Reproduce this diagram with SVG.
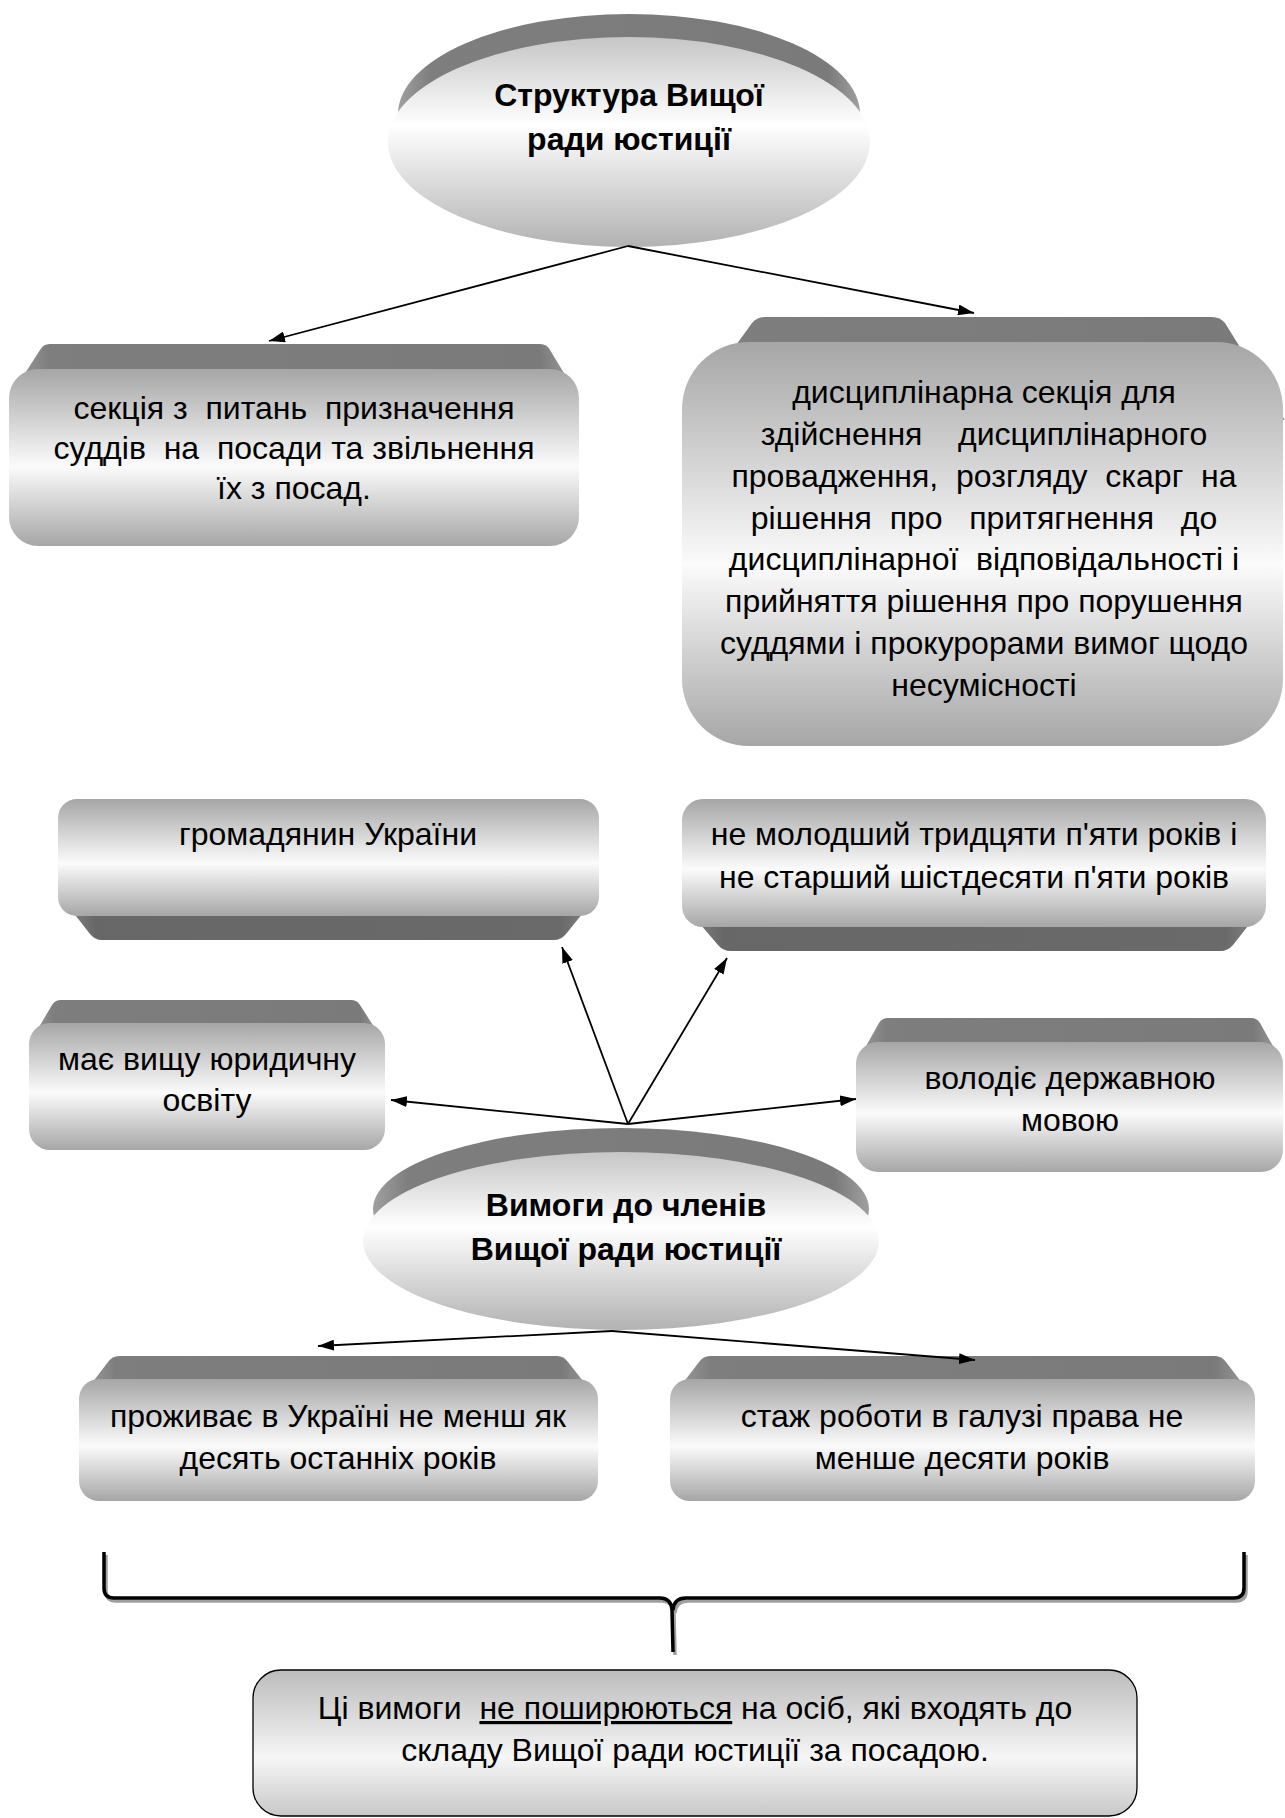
<svg xmlns="http://www.w3.org/2000/svg" width="1285" height="1818" viewBox="0 0 1285 1818">
<style>
text{font-family:"Liberation Sans",Arial,sans-serif;font-size:32px;fill:#000;text-anchor:middle;white-space:pre}
.b{font-weight:bold}
.face{fill:url(#faceG)}
.band{fill:url(#bandG)}
.bandB{fill:url(#bandB)}
.conn{stroke:#000;stroke-width:1.8;fill:none;marker-end:url(#ah)}
</style>
<defs>
<linearGradient id="faceG" x1="0" y1="0" x2="0" y2="1">
<stop offset="0" stop-color="#a6a6a6"/>
<stop offset="0.55" stop-color="#fbfbfb"/>
<stop offset="1" stop-color="#a6a6a6"/>
</linearGradient>
<linearGradient id="ellG" x1="0" y1="0" x2="0" y2="1">
<stop offset="0" stop-color="#c6c6c6"/>
<stop offset="0.42" stop-color="#ffffff"/>
<stop offset="1" stop-color="#b2b2b2"/>
</linearGradient>
<linearGradient id="bandG" x1="0" y1="0" x2="1" y2="0">
<stop offset="0" stop-color="#a0a0a0"/>
<stop offset="0.07" stop-color="#7e7e7e"/>
<stop offset="0.93" stop-color="#7a7a7a"/>
<stop offset="1" stop-color="#a0a0a0"/>
</linearGradient>
<linearGradient id="bandB" x1="0" y1="0" x2="1" y2="0">
<stop offset="0" stop-color="#8a8a8a"/>
<stop offset="0.07" stop-color="#676767"/>
<stop offset="0.93" stop-color="#6a6a6a"/>
<stop offset="1" stop-color="#8a8a8a"/>
</linearGradient>
<linearGradient id="botG" x1="0" y1="0" x2="0" y2="1">
<stop offset="0" stop-color="#bcbcbc"/>
<stop offset="0.6" stop-color="#f6f6f6"/>
<stop offset="1" stop-color="#c8c8c8"/>
</linearGradient>
<marker id="ah" viewBox="0 0 10 10" refX="10" refY="5" markerWidth="16" markerHeight="11" markerUnits="userSpaceOnUse" orient="auto" preserveAspectRatio="none">
<path d="M0,0 L10,5 L0,10 Z" fill="#000"/>
</marker>
</defs>

<g id="node-structure">
<ellipse cx="629" cy="114" rx="231" ry="100" class="band"/>
<ellipse cx="629" cy="142" rx="241" ry="105" fill="url(#ellG)"/>
<text class="b" x="629" y="106">Структура Вищої</text>
<text class="b" x="629" y="150">ради юстиції</text>
</g>

<g id="node-appoint">
<path class="band" d="M9,398 L40,350 Q43,344 50,344 L540,344 Q547,344 550,350 L579,398 Z"/>
<rect class="face" x="9" y="369" width="570" height="177" rx="29"/>
<text x="294" y="419">секція з  питань  призначення</text>
<text x="294" y="459">суддів  на  посади та звільнення</text>
<text x="294" y="499">їх з посад.</text>
</g>

<g id="node-discipline">
<path class="band" d="M682,420 L752,323 Q757,317 765,317 L1212,317 Q1220,317 1225,323 L1285,420 Z"/>
<rect class="face" x="682" y="342" width="601" height="404" rx="67"/>
<text x="984" y="403">дисциплінарна секція для</text>
<text x="984" y="445">здійснення    дисциплінарного</text>
<text x="984" y="487">провадження,  розгляду  скарг  на</text>
<text x="984" y="529">рішення  про   притягнення   до</text>
<text x="984" y="570">дисциплінарної  відповідальності і</text>
<text x="984" y="612">прийняття рішення про порушення</text>
<text x="984" y="654">суддями і прокурорами вимог щодо</text>
<text x="984" y="696">несумісності</text>
</g>

<g id="node-citizen">
<path class="bandB" d="M58,893 L90,934 Q95,940 102,940 L554,940 Q561,940 566,934 L599,893 Z"/>
<rect class="face" x="58" y="799" width="541" height="117" rx="19"/>
<text x="328" y="845">громадянин України</text>
</g>

<g id="node-age">
<path class="bandB" d="M682,903 L718,945 Q723,951 731,951 L1220,951 Q1228,951 1233,945 L1266,903 Z"/>
<rect class="face" x="682" y="799" width="584" height="128" rx="21"/>
<text x="974" y="845">не молодший тридцяти п'яти років і</text>
<text x="974" y="888">не старший шістдесяти п'яти років</text>
</g>

<g id="node-education">
<path class="band" d="M29,1044 L52,1005 Q55,1000 61,1000 L351,1000 Q357,1000 360,1005 L385,1044 Z"/>
<rect class="face" x="29" y="1023" width="356" height="127" rx="21"/>
<text x="207" y="1070">має вищу юридичну</text>
<text x="207" y="1111">освіту</text>
</g>

<g id="node-language">
<path class="band" d="M856,1064 L879,1023 Q882,1018 888,1018 L1251,1018 Q1257,1018 1260,1023 L1283,1064 Z"/>
<rect class="face" x="856" y="1042" width="427" height="130" rx="22"/>
<text x="1070" y="1089">володіє державною</text>
<text x="1070" y="1131">мовою</text>
</g>

<g id="node-requirements">
<ellipse cx="621" cy="1209" rx="248" ry="81" class="band"/>
<ellipse cx="621" cy="1241" rx="258" ry="89" fill="url(#ellG)"/>
<text class="b" x="626" y="1216">Вимоги до членів</text>
<text class="b" x="626" y="1260">Вищої ради юстиції</text>
</g>

<g id="node-residence">
<path class="band" d="M79,1400 L108,1362 Q112,1356 119,1356 L557,1356 Q564,1356 568,1362 L598,1400 Z"/>
<rect class="face" x="79" y="1379" width="519" height="122" rx="20"/>
<text x="338" y="1427">проживає в Україні не менш як</text>
<text x="338" y="1469">десять останніх років</text>
</g>

<g id="node-experience">
<path class="band" d="M670,1400 L699,1362 Q703,1356 710,1356 L1215,1356 Q1222,1356 1226,1362 L1255,1400 Z"/>
<rect class="face" x="670" y="1379" width="585" height="122" rx="20"/>
<text x="962" y="1427">стаж роботи в галузі права не</text>
<text x="962" y="1469">менше десяти років</text>
</g>

<g id="brace">
<path d="M104,1552 L104,1588 Q104,1598 114,1598 L660,1598 Q671,1598 672,1610 L673,1652 M1244,1552 L1244,1588 Q1244,1598 1234,1598 L686,1598 Q674,1598 673,1610" fill="none" stroke="#a0a0a0" stroke-width="3.5" transform="translate(2,3)"/>
<path d="M104,1552 L104,1588 Q104,1598 114,1598 L660,1598 Q671,1598 672,1610 L673,1652 M1244,1552 L1244,1588 Q1244,1598 1234,1598 L686,1598 Q674,1598 673,1610" fill="none" stroke="#000" stroke-width="3.5"/>
</g>

<g id="node-note">
<rect x="253" y="1670" width="884" height="146" rx="28" fill="url(#botG)" stroke="#000" stroke-width="1.3"/>
<text x="695" y="1719">Ці вимоги  <tspan text-decoration="underline">не поширюються</tspan> на осіб, які входять до</text>
<text x="695" y="1761">складу Вищої ради юстиції за посадою.</text>
</g>

<g id="connectors">
<line class="conn" x1="628" y1="246" x2="269" y2="341"/>
<line class="conn" x1="628" y1="246" x2="974" y2="313"/>
<line class="conn" x1="628" y1="1124" x2="562" y2="947"/>
<line class="conn" x1="628" y1="1124" x2="727" y2="958"/>
<line class="conn" x1="628" y1="1124" x2="391" y2="1100"/>
<line class="conn" x1="628" y1="1124" x2="856" y2="1099"/>
<line class="conn" x1="612" y1="1331" x2="318" y2="1346"/>
<line class="conn" x1="612" y1="1331" x2="975" y2="1360"/>
</g>
</svg>
